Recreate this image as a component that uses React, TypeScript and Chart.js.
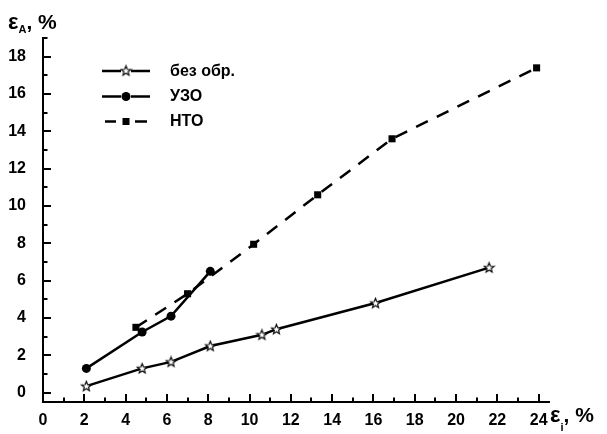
import React, { useEffect, useRef } from "react";
import { Chart, registerables } from "chart.js";

Chart.register(...registerables);

const xTicks = [0, 2, 4, 6, 8, 10, 12, 14, 16, 18, 20, 22, 24];
const yTicks = [0, 2, 4, 6, 8, 10, 12, 14, 16, 18];

const seriesNames = ["без обр.", "УЗО", "НТО"];

const bezX = [2.1, 4.8, 6.2, 8.1, 10.6, 11.3, 16.1, 21.6];
const bezY = [0.35, 1.3, 1.65, 2.5, 3.1, 3.4, 4.8, 6.7];

const uzoX = [2.1, 4.8, 6.2, 8.1];
const uzoY = [1.3, 3.25, 4.1, 6.5];

const ntoX = [4.5, 7.0, 10.2, 13.3, 16.9, 23.9];
const ntoY = [3.5, 5.3, 7.95, 10.6, 13.6, 17.4];

const FONT = '"Liberation Sans"';

function makeStar(): HTMLCanvasElement {
  const c = document.createElement("canvas");
  c.width = 13;
  c.height = 13;
  const ctx = c.getContext("2d")!;
  const cx = 6.5, cy = 6.8, R = 5.2, r = 2.2;
  ctx.beginPath();
  for (let i = 0; i < 10; i++) {
    const rad = i % 2 === 0 ? R : r;
    const a = -Math.PI / 2 + (i * Math.PI) / 5;
    const px = cx + rad * Math.cos(a);
    const py = cy + rad * Math.sin(a);
    if (i === 0) ctx.moveTo(px, py);
    else ctx.lineTo(px, py);
  }
  ctx.closePath();
  ctx.fillStyle = "#fff";
  ctx.fill();
  ctx.lineWidth = 1.1;
  ctx.strokeStyle = "#000";
  ctx.stroke();
  return c;
}

const zip = (xs: number[], ys: number[]) => xs.map((x, i) => ({ x, y: ys[i] }));

export default function App() {
  const ref = useRef<HTMLCanvasElement>(null);
  useEffect(() => {
    const star = makeStar();
    const decor = {
      id: "decor",
      afterDraw(chart: any) {
        const ctx = chart.ctx as CanvasRenderingContext2D;
        const xs = chart.scales.x;
        const ys = chart.scales.y;
        const left = chart.chartArea.left;
        const bottom = chart.chartArea.bottom;
        ctx.save();
        ctx.strokeStyle = "#000";
        ctx.lineWidth = 2;
        ctx.setLineDash([]);
        for (let v = 1; v <= 24; v++) {
          const px = Math.round(xs.getPixelForValue(v));
          const len = v % 2 === 0 ? 8 : 4.5;
          ctx.beginPath();
          ctx.moveTo(px, bottom);
          ctx.lineTo(px, bottom - len);
          ctx.stroke();
        }
        for (let v = 0; v <= 19; v++) {
          const py = Math.round(ys.getPixelForValue(v));
          const len = v % 2 === 0 ? 8 : 4.5;
          ctx.beginPath();
          ctx.moveTo(left, py);
          ctx.lineTo(left + len, py);
          ctx.stroke();
        }
        // legend
        const rows = [71, 96.5, 121.5];
        const mx = 126;
        ctx.lineWidth = 2.5;
        rows.forEach((ry, i) => {
          ctx.beginPath();
          if (i < 2) {
            ctx.moveTo(102, ry);
            ctx.lineTo(121, ry);
            ctx.moveTo(131, ry);
            ctx.lineTo(150, ry);
          } else {
            ctx.moveTo(105, ry);
            ctx.lineTo(116, ry);
            ctx.moveTo(135, ry);
            ctx.lineTo(147, ry);
          }
          ctx.stroke();
          if (i === 0) {
            ctx.drawImage(star, mx - 6.5, ry - 6.8);
          } else if (i === 1) {
            ctx.beginPath();
            ctx.arc(mx, ry, 4.5, 0, Math.PI * 2);
            ctx.fillStyle = "#000";
            ctx.fill();
          } else {
            ctx.fillStyle = "#000";
            ctx.fillRect(mx - 3.5, ry - 3.5, 7, 7);
          }
          ctx.fillStyle = "#000";
          ctx.font = `bold 16px ${FONT}`;
          ctx.textBaseline = "middle";
          ctx.textAlign = "left";
          ctx.fillText(seriesNames[i], 170, ry + 0.5);
        });
        const title = (x: number, base: number, sub: string, subDrop: number) => {
          ctx.fillStyle = "#000";
          ctx.textBaseline = "alphabetic";
          ctx.textAlign = "left";
          ctx.font = `bold 22px ${FONT}`;
          ctx.fillText("ε", x, base);
          let cx = x + ctx.measureText("ε").width;
          ctx.font = `bold 11px ${FONT}`;
          ctx.fillText(sub, cx, base + subDrop);
          cx += ctx.measureText(sub).width;
          ctx.font = `bold 21px ${FONT}`;
          ctx.fillText(", %", cx, base);
        };
        title(8, 28.5, "A", 4.5);
        title(550, 422, "i", 9);
        ctx.restore();
      },
    };
    const chart = new Chart(ref.current!, {
      type: "line",
      data: {
        datasets: [
          {
            label: seriesNames[0],
            data: zip(bezX, bezY),
            borderColor: "#000",
            borderWidth: 2.5,
            pointStyle: star as any,
            pointRadius: 5,
            backgroundColor: "#fff",
          },
          {
            label: seriesNames[1],
            data: zip(uzoX, uzoY),
            borderColor: "#000",
            borderWidth: 2.5,
            pointStyle: "circle",
            pointRadius: 4.5,
            pointBorderWidth: 0,
            backgroundColor: "#000",
          },
          {
            label: seriesNames[2],
            data: zip(ntoX, ntoY),
            borderColor: "#000",
            borderWidth: 2.5,
            borderDash: [13, 10],
            pointStyle: "rect",
            pointRadius: 5,
            pointBorderWidth: 0,
            backgroundColor: "#000",
          },
        ],
      },
      options: {
        responsive: false,
        animation: false,
        parsing: false,
        font: { family: FONT, size: 16, weight: "bold" },
        layout: { padding: { top: 38, right: 58, left: 0, bottom: 0 } },
        plugins: { legend: { display: false }, tooltip: { enabled: false }, title: { display: false } },
        scales: {
          x: {
            type: "linear",
            min: 0,
            max: 24.5,
            afterBuildTicks: (s: any) => {
              s.ticks = xTicks.map((v) => ({ value: v }));
            },
            afterFit: (s: any) => {
              s.height = 32;
            },
            grid: { display: false },
            border: { display: true, color: "#000", width: 2 },
            ticks: {
              color: "#000",
              padding: 1,
              maxRotation: 0,
              font: { family: FONT, size: 16, weight: "bold" },
            },
          },
          y: {
            type: "linear",
            min: -0.5,
            max: 19,
            afterBuildTicks: (s: any) => {
              s.ticks = yTicks.map((v) => ({ value: v }));
            },
            afterFit: (s: any) => {
              s.width = 43;
            },
            grid: { display: false },
            border: { display: true, color: "#000", width: 2 },
            ticks: {
              color: "#000",
              padding: 9,
              font: { family: FONT, size: 16, weight: "bold" },
            },
          },
        },
      } as any,
      plugins: [decor],
    });
    return () => chart.destroy();
  }, []);
  return (
    <div style={{ position: "absolute", left: 0, top: 0, width: 607, height: 434, background: "#fff" }}>
      <canvas ref={ref} width={607} height={434} style={{ display: "block" }} />
    </div>
  );
}
